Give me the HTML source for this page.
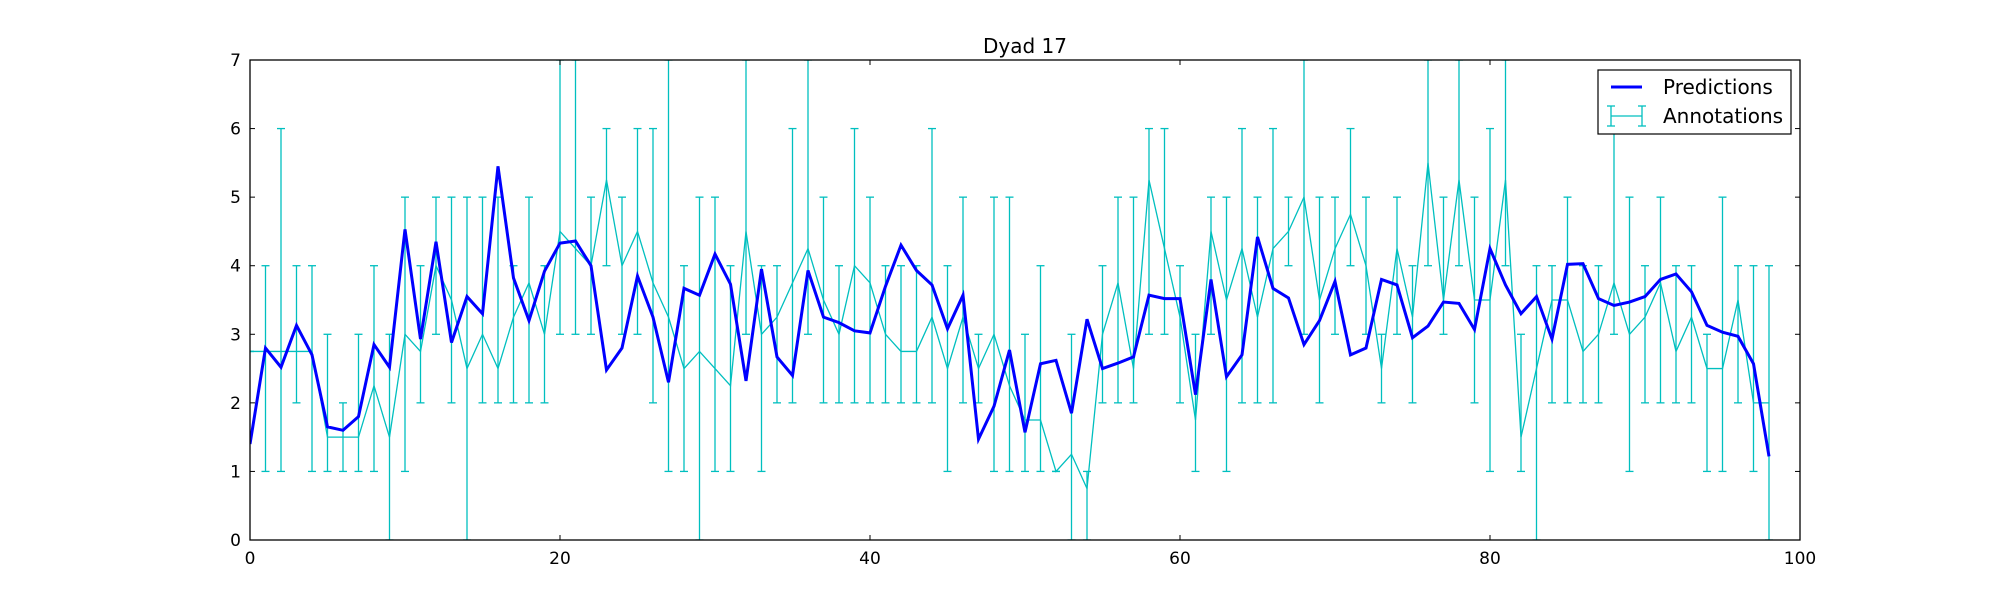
<!DOCTYPE html>
<html><head><meta charset="utf-8"><style>
body{margin:0;background:#fff;}
svg{display:block;font-family:"DejaVu Sans","Liberation Sans",sans-serif;}
</style></head><body>
<svg id="chart" width="2000" height="600" viewBox="0 0 2000 600" xmlns="http://www.w3.org/2000/svg">
<rect x="0" y="0" width="2000" height="600" fill="#fff"/>
<text x="1025" y="53" font-size="20" text-anchor="middle">Dyad 17</text>
<g id="plot"></g>
<rect x="250" y="60" width="1550" height="480" fill="none" stroke="#000" stroke-width="1.3"/>
<g id="ticks"></g>
<g>
<rect x="1598" y="70" width="193" height="64" fill="#fff" stroke="#000" stroke-width="1.2"/>
<line x1="1611" y1="87" x2="1642" y2="87" stroke="#0000ff" stroke-width="3"/>
<text x="1663" y="94" font-size="20">Predictions</text>
<g stroke="#00bfbf" stroke-width="1.3">
<line x1="1611" y1="116" x2="1642" y2="116"/><line x1="1611" y1="106" x2="1611" y2="126"/><line x1="1642" y1="106" x2="1642" y2="126"/>
<line x1="1607" y1="106" x2="1615" y2="106"/><line x1="1607" y1="126" x2="1615" y2="126"/><line x1="1638" y1="106" x2="1646" y2="106"/><line x1="1638" y1="126" x2="1646" y2="126"/>
</g>
<text x="1663" y="123" font-size="20">Annotations</text>
</g>
</svg>
<script>
const predictions=[1.4,2.8,2.52,3.13,2.7,1.65,1.6,1.8,2.85,2.52,4.53,2.93,4.35,2.88,3.55,3.3,5.45,3.82,3.2,3.92,4.33,4.36,4.0,2.48,2.8,3.85,3.25,2.3,3.67,3.57,4.17,3.73,2.32,3.95,2.67,2.4,3.93,3.25,3.17,3.05,3.02,3.7,4.3,3.93,3.72,3.08,3.57,1.47,1.95,2.77,1.57,2.57,2.62,1.85,3.22,2.5,2.58,2.67,3.57,3.52,3.52,2.12,3.8,2.38,2.7,4.42,3.67,3.53,2.85,3.2,3.77,2.7,2.8,3.8,3.72,2.95,3.12,3.47,3.45,3.07,4.25,3.72,3.3,3.55,2.93,4.02,4.03,3.52,3.42,3.47,3.55,3.8,3.88,3.62,3.13,3.03,2.97,2.57,1.22];
const annotations=[2.75,2.75,2.75,2.75,2.75,1.5,1.5,1.5,2.25,1.5,3.0,2.75,4.0,3.5,2.5,3.0,2.5,3.25,3.75,3.0,4.5,4.25,4.0,5.25,4.0,4.5,3.75,3.25,2.5,2.75,2.5,2.25,4.5,3.0,3.25,3.75,4.25,3.5,3.0,4.0,3.75,3.0,2.75,2.75,3.25,2.5,3.25,2.5,3.0,2.25,1.75,1.75,1.0,1.25,0.75,3.0,3.75,2.5,5.25,4.25,3.25,1.75,4.5,3.5,4.25,3.25,4.25,4.5,5.0,3.5,4.25,4.75,4.0,2.5,4.25,3.25,5.5,3.5,5.25,3.5,3.5,5.25,1.5,2.5,3.5,3.5,2.75,3.0,3.75,3.0,3.25,3.75,2.75,3.25,2.5,2.5,3.5,2.0,2.0];
const annLow=[2.75,1,1,2,1,1,1,1,1,0,1,2,3,2,0,2,2,2,2,2,3,3,3,4,3,3,2,1,1,0,1,1,3,1,2,2,3,2,2,2,2,2,2,2,2,1,2,2,1,1,1,1,1,0,0,2,2,2,3,3,2,1,3,1,2,2,2,4,3,2,3,4,3,2,3,2,4,3,4,2,1,4,1,0,2,2,2,2,3,1,2,2,2,2,1,1,2,1,0];
const annHigh=[2.75,4,6,4,4,3,2,3,4,3,5,4,5,5,5,5,5,4,5,4,7,7,5,6,5,6,6,7,4,5,5,4,7,4,4,6,7,5,4,6,5,4,4,4,6,4,5,3,5,5,3,4,1,3,1,4,5,5,6,6,4,3,5,5,6,5,6,5,7,5,5,6,5,3,5,4,7,5,7,5,6,7,3,4,4,5,4,4,6,5,4,5,4,4,3,5,4,4,4];
const xTicks=[0,20,40,60,80,100];
const yTicks=[0,1,2,3,4,5,6,7];
const X0=250,X1=1800,Y0=540,Y1=60;
const xs=v=>X0+(v-0)/100*(X1-X0);
const ys=v=>Y0-(v-0)/7*(Y0-Y1);
const NS="http://www.w3.org/2000/svg";
const plot=document.getElementById('plot');
function mk(tag,attrs,parent){const e=document.createElementNS(NS,tag);for(const k in attrs)e.setAttribute(k,attrs[k]);parent.appendChild(e);return e;}
const clip=mk('clipPath',{id:'clip'},plot);mk('rect',{x:X0,y:Y1,width:X1-X0,height:Y0-Y1},clip);
const g=mk('g',{'clip-path':'url(#clip)'},plot);
for(let i=0;i<annotations.length;i++){
  const x=xs(i);
  const bar=mk('g',{stroke:'#00bfbf','stroke-width':'1.3'},g);
  
  
  mk('line',{x1:x,y1:ys(annLow[i]),x2:x,y2:ys(annHigh[i])},bar);
  mk('line',{x1:x-4,y1:ys(annLow[i]),x2:x+4,y2:ys(annLow[i])},bar);
  mk('line',{x1:x-4,y1:ys(annHigh[i]),x2:x+4,y2:ys(annHigh[i])},bar);
}
const al=mk('polyline',{points:annotations.map((v,i)=>xs(i)+','+ys(v)).join(' '),fill:'none',stroke:'#00bfbf','stroke-width':'1.3'},g);


const pl=mk('polyline',{points:predictions.map((v,i)=>xs(i)+','+ys(v)).join(' '),fill:'none',stroke:'#0000ff','stroke-width':'3','stroke-linejoin':'miter'},g);


const tg=document.getElementById('ticks');
xTicks.forEach(t=>{const x=xs(t);
  mk('line',{x1:x,y1:Y0,x2:x,y2:Y0-5,stroke:'#000'},tg);mk('line',{x1:x,y1:Y1,x2:x,y2:Y1+5,stroke:'#000'},tg);
  const tx=mk('text',{x:x,y:Y0+24,'font-size':'17','text-anchor':'middle'},tg);tx.textContent=t;
  
  });
yTicks.forEach(t=>{const y=ys(t);
  mk('line',{x1:X0,y1:y,x2:X0+5,y2:y,stroke:'#000'},tg);mk('line',{x1:X1,y1:y,x2:X1-5,y2:y,stroke:'#000'},tg);
  const tx=mk('text',{x:X0-9,y:y+6,'font-size':'17','text-anchor':'end'},tg);tx.textContent=t;
  
  });
</script>
</body></html>
